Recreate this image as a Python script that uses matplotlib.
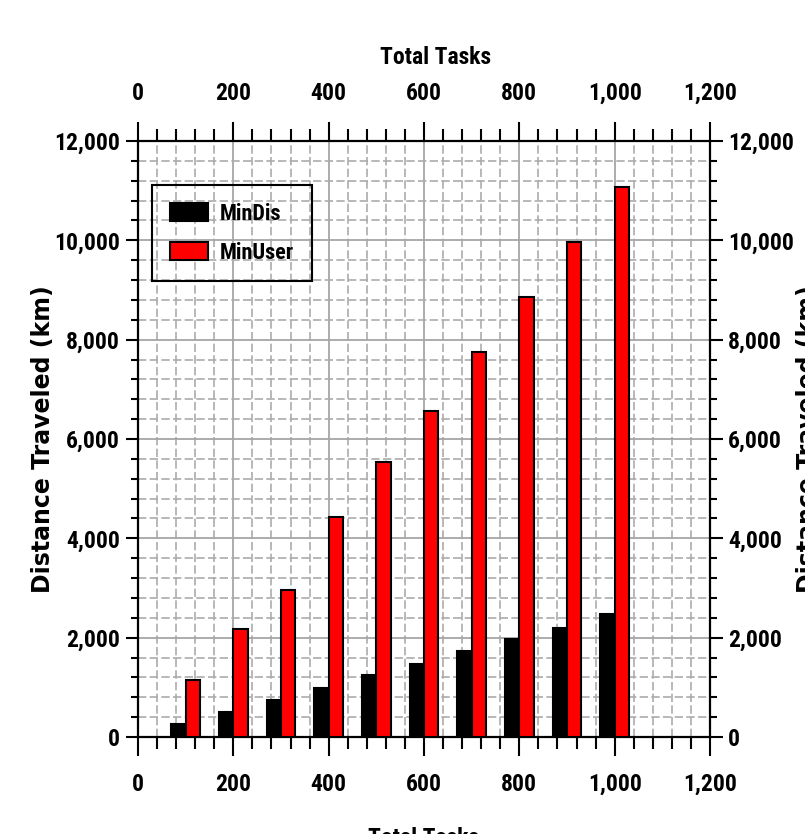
import numpy as np
import matplotlib
matplotlib.use("Agg")
import matplotlib.pyplot as plt
from matplotlib import font_manager
from matplotlib.ticker import MultipleLocator, FuncFormatter


# -------------------------------------------------------------------
# Data
# -------------------------------------------------------------------

total_tasks = [100, 200, 300, 400, 500, 600, 700, 800, 900, 1000]
min_dis = [270, 500, 740, 990, 1240, 1480, 1730, 1970, 2200, 2470]
min_user = [1140, 2180, 2950, 4435, 5545, 6570, 7745, 8850, 9960, 11080]
series_labels = ["MinDis", "MinUser"]

x_label = "Total Tasks"
y_label = "Distance Traveled (km)"


# -------------------------------------------------------------------
# Pick a narrow bold face if one is installed
# -------------------------------------------------------------------

def _pick_narrow():
    entries = font_manager.fontManager.ttflist
    names = {f.name for f in entries}
    for cand in ["Liberation Sans Narrow", "Arial Narrow", "Roboto Condensed",
                 "Open Sans Condensed", "Noto Sans Condensed",
                 "DejaVu Sans Condensed"]:
        if cand in names:
            return {"family": [cand, "DejaVu Sans"], "stretch": "normal"}
    for f in entries:
        if str(f.stretch) in ("condensed", "semi-condensed", "extra-condensed") \
                and "Mono" not in f.name and "Serif" not in f.name:
            return {"family": [f.name, "DejaVu Sans"], "stretch": f.stretch}
    return {"family": ["Liberation Sans", "DejaVu Sans"], "stretch": "normal"}


NARROW = _pick_narrow()
WIDE = ["DejaVu Sans"]


def _style(lab, size=17):
    lab.set_family(NARROW["family"])
    lab.set_stretch(NARROW["stretch"])
    lab.set_fontweight("bold")
    lab.set_fontsize(size)


def _thousands(v, pos):
    return f"{int(round(v)):,}"


fig = plt.figure(figsize=(8.05, 8.34), dpi=100)
ax = fig.add_axes([0.1714, 0.1163, 0.7106, 0.7146])

x = np.array(total_tasks, dtype=float)
bar_w = 30
ax.bar(x, min_dis, width=-bar_w, align="edge", color="black",
       edgecolor="black", linewidth=1.5, label=series_labels[0], zorder=3)
ax.bar(x, min_user, width=bar_w, align="edge", color="#ff0000",
       edgecolor="black", linewidth=1.5, label=series_labels[1], zorder=3)

ax.set_xlim(0, 1200)
ax.set_ylim(0, 12000)

ax.xaxis.set_major_locator(MultipleLocator(200))
ax.xaxis.set_minor_locator(MultipleLocator(40))
ax.yaxis.set_major_locator(MultipleLocator(2000))
ax.yaxis.set_minor_locator(MultipleLocator(400))
ax.xaxis.set_major_formatter(FuncFormatter(_thousands))
ax.yaxis.set_major_formatter(FuncFormatter(_thousands))

ax.grid(True, which="major", color="#a6a6a6", linewidth=1.3, zorder=0)
ax.grid(True, which="minor", color="#ababab", linewidth=1.2,
        linestyle=(0, (5, 2)), zorder=0)
ax.set_axisbelow(True)

for s in ax.spines.values():
    s.set_linewidth(1.6)

ax.tick_params(axis="x", which="both", direction="out", top=True,
               labeltop=True, width=1.5)
ax.tick_params(axis="x", which="major", length=14, pad=12)
ax.tick_params(axis="x", which="minor", length=8.5)
ax.tick_params(axis="y", which="both", direction="out", right=True,
               labelright=True, width=1.5)
ax.tick_params(axis="y", which="major", length=9, pad=4)
ax.tick_params(axis="y", which="minor", length=5)

fig.canvas.draw()
for t in ax.xaxis.get_major_ticks() + ax.yaxis.get_major_ticks():
    _style(t.label1)
    _style(t.label2)

ax.set_xlabel(x_label)
_style(ax.xaxis.label)
ax.xaxis.set_label_coords(0.5, -0.151)
ax.set_ylabel(y_label, family=WIDE, fontweight="bold", fontsize=17)
ax.yaxis.set_label_coords(-0.145, 0.5)

# labels on the top and right side
top_lab = fig.text(0.5406, 1 - 57 / 834, x_label, ha="center", va="center")
_style(top_lab)
fig.text(808 / 805, 0.4737, y_label, ha="center", va="center",
         rotation=90, family=WIDE, fontweight="bold", fontsize=17)

leg = ax.legend(loc="upper left", bbox_to_anchor=(0.0245, 0.926),
                frameon=True, fancybox=False, framealpha=1,
                facecolor="none", edgecolor="black",
                prop={"family": NARROW["family"], "stretch": NARROW["stretch"],
                      "weight": "bold", "size": 16},
                handlelength=1.7, handleheight=0.85, labelspacing=0.75,
                borderpad=0.8, handletextpad=0.55, borderaxespad=0)
leg.get_frame().set_linewidth(1.5)

fig.savefig("out.png", dpi=100)
